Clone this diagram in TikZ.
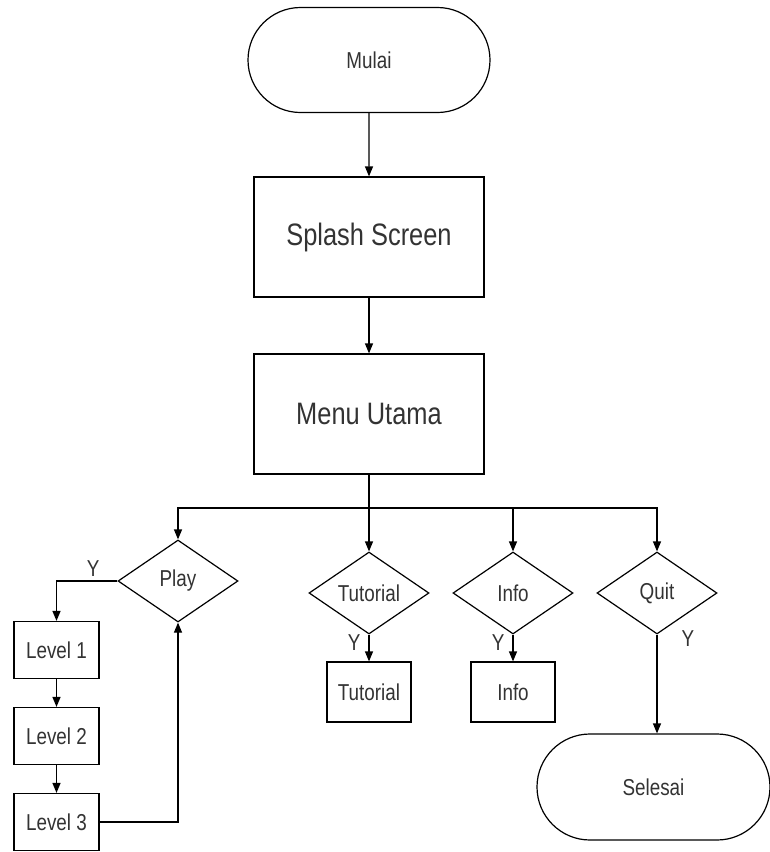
\documentclass[tikz,border=0pt]{standalone}
\usepackage{fontspec}
\setmainfont{Liberation Sans}[FakeStretch=0.82]
\usetikzlibrary{shapes.geometric,shapes.misc,arrows.meta}

\tikzset{
	txt/.style={text=black!80, font=\fontsize{23}{27}\selectfont},
	terminal/.style={draw, rounded rectangle, inner sep=0pt, minimum width=242pt, minimum height=105pt, txt},
	bigbox/.style={draw, rectangle, inner sep=0pt, minimum width=230pt, minimum height=120pt, text=black!80, font=\fontsize{31}{36}\selectfont},
	decision/.style={draw, diamond, inner sep=0pt, minimum width=120pt, minimum height=82pt, txt},
	smallbox/.style={draw, rectangle, inner sep=0pt, minimum width=85pt, minimum height=57pt, txt},
	yes/.style={txt, inner sep=2pt}
}

\begin{document}
\begin{tikzpicture}[x=1pt, y=-1pt, >={Triangle[length=10pt,width=8pt]}, line width=1.2pt]
	\useasboundingbox (0,0) rectangle (770,852);
	%\draw[help lines] (0,0) grid[step=50] (770,852);
	\node[terminal] (mulai) at (369,60) {Mulai};
	\node[bigbox] (splash) at (369,237) {Splash Screen};
	\node[bigbox] (menu) at (369,414) {Menu Utama};
	\coordinate (bus) at (369,508);
	\node[decision] (play) at (178,581) {Play};
	\node[decision] (tutorial) at (369,593) {Tutorial};
	\node[decision] (info) at (513,593) {Info};
	\node[decision] (quit) at (657,593) {Quit};
	\node[smallbox] (level1) at (56.5,650) {Level 1};
	\node[smallbox] (level2) at (56.5,736) {Level 2};
	\node[smallbox] (level3) at (56.5,822) {Level 3};
	\node[smallbox, minimum width=84pt, minimum height=60pt] (tutbox) at (369,692) {Tutorial};
	\node[smallbox, minimum width=84pt, minimum height=60pt] (infobox) at (513,692) {Info};
	\node[terminal, minimum width=233pt, minimum height=106pt] (selesai) at (653.5,787) {Selesai};

	\draw[->] (mulai) -- (splash);
	\draw[->] (splash) -- (menu);
	\draw (menu) -- (bus);
	\draw[->] (bus) -| (play);
	\draw[->] (bus) -- (tutorial);
	\draw[->] (bus) -| (info);
	\draw[->] (bus) -| (quit);
	\draw[->] (play) -| node[pos=0.2, above, yshift=2pt, yes] (yplay) {Y} (level1);
	\draw[->] (level1) -- (level2);
	\draw[->] (level2) -- (level3);
	\draw[->] (level3) -| (play);
	\draw[->] (tutorial) -- node[pos=0.3, left, xshift=-6pt, yes] (ytut) {Y} (tutbox);
	\draw[->] (info) -- node[pos=0.3, left, xshift=-6pt, yes] (yinfo) {Y} (infobox);
	\draw[->] (quit) -- node[pos=0.04, right, xshift=22pt, yes] (yquit) {Y} (quit |- selesai.north);
\end{tikzpicture}
\end{document}
